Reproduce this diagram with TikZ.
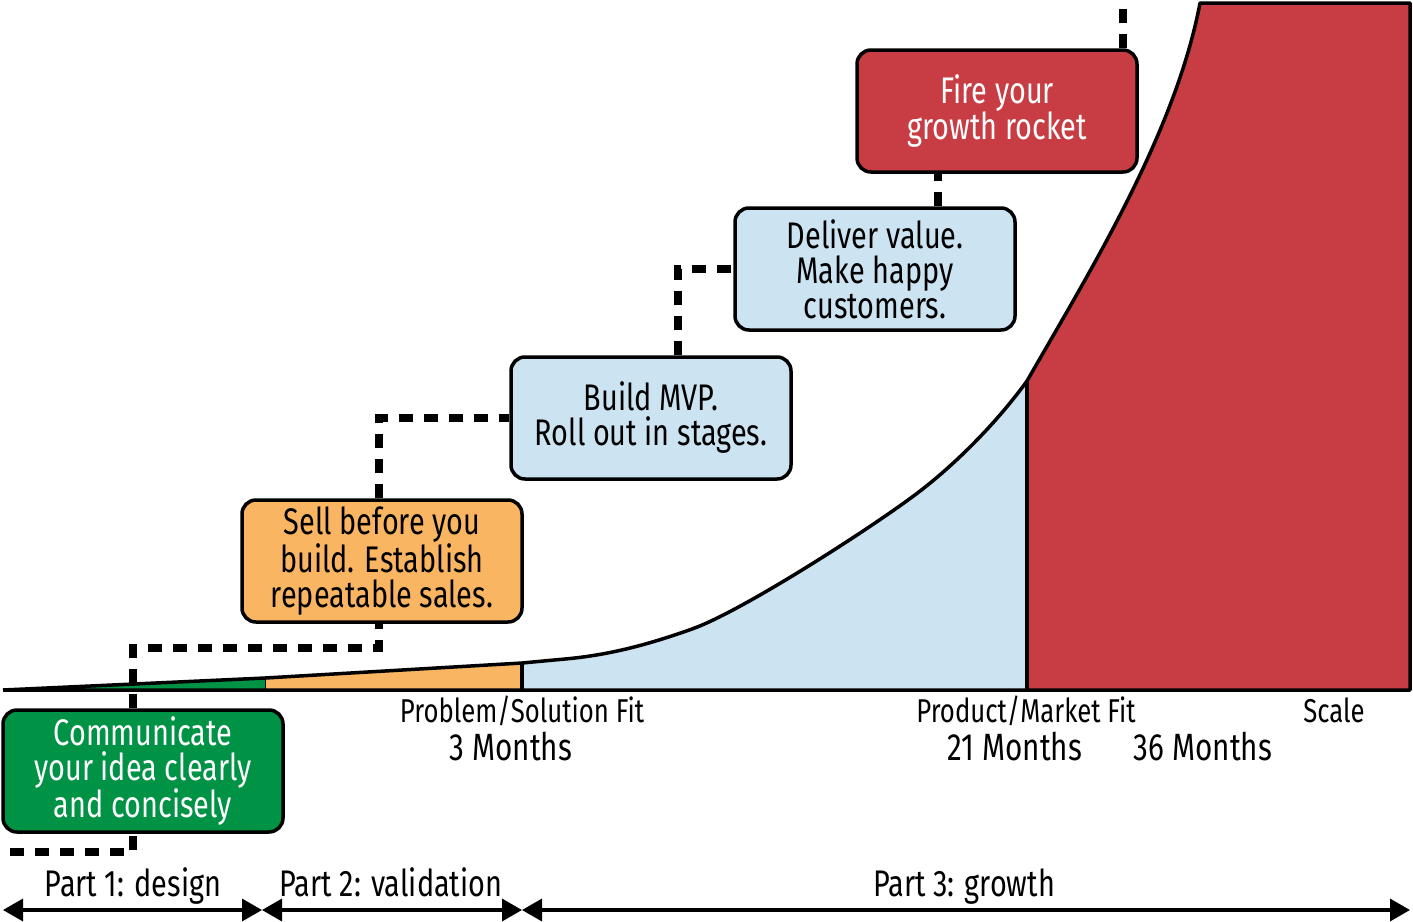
\documentclass[tikz,border=0pt]{standalone}
\usepackage{fontspec}
\setmainfont{Fira Sans}[FakeStretch=0.78]
\usepackage{tikz}
\usetikzlibrary{arrows.meta}

\definecolor{stepgreen}{RGB}{0,146,69}
\definecolor{steporange}{RGB}{250,181,98}
\definecolor{stepblue}{RGB}{204,227,241}
\definecolor{stepred}{RGB}{200,61,67}

\tikzset{
  stepbox/.style={shape=rectangle, rounded corners=14pt, draw=black, line width=3.5pt,
    minimum width=280pt, minimum height=122pt, inner sep=0pt, align=center,
    font=\fontsize{37}{35}\selectfont},
  link/.style={line width=8pt, dash pattern=on 14pt off 11pt},
  marklabel/.style={inner sep=0pt, anchor=base, font=\fontsize{33}{33}\selectfont},
  monthlabel/.style={inner sep=0pt, anchor=base, font=\fontsize{38}{38}\selectfont},
  partlabel/.style={inner sep=0pt, anchor=base, font=\fontsize{37}{37}\selectfont},
  span/.style={line width=3.5pt, {Triangle[length=20pt,width=22pt]}-{Triangle[length=20pt,width=22pt]}}
}

\newcommand\growthpath{(3,690) -- (265,678) -- (522,663) -- (565,659)
  .. controls (610,655) and (650,644) .. (692,629)
  .. controls (740,612) and (860,535) .. (908,500)
  .. controls (950,470) and (995,425) .. (1027,381)
  .. controls (1087,276) and (1175,135) .. (1200,3)}

\begin{document}
\begin{tikzpicture}[x=1pt,y=-1pt]
\useasboundingbox (0,0) rectangle (1413,921);

% area under the curve
\foreach \xa/\xb/\col in {0/265/stepgreen, 265/522/steporange, 522/1027/stepblue, 1027/1413/stepred} {
  \begin{scope}
    \clip (\xa,0) rectangle (\xb,691);
    \fill[\col] \growthpath -- (1410,3) -- (1410,690) -- cycle;
  \end{scope}
}
\draw[line width=1pt] (265,678) -- (265,690);
\draw[line width=3.5pt] (522,663) -- (522,690);
\draw[line width=3.5pt] (1027,381) -- (1027,690);
\draw[line width=3.5pt, line join=round] \growthpath -- (1410,3) -- (1410,690) -- (3,690);

% steps
\node[stepbox, fill=stepgreen, text=white](communicate) at (143,771) {Communicate\\your idea clearly\\and concisely};
\node[stepbox, fill=steporange](sell) at (382,561) {Sell before you\\build. Establish\\repeatable sales.};
\node[stepbox, fill=stepblue](mvp) at (651,418) {Build MVP.\\Roll out in stages.};
\node[stepbox, fill=stepblue](value) at (875,269) {Deliver value.\\Make happy\\customers.};
\node[stepbox, fill=stepred, text=white](rocket) at (997,111) {Fire your\\growth rocket};

% dotted path between steps
\coordinate (start) at (10,852);
\coordinate (bend) at (133,648);
\coordinate (sky) at (1123,0);

\draw[link] (start) -| ([xshift=-10pt]communicate.south);
\draw[link] ([xshift=-10pt]communicate.north) -- (bend) -| ([xshift=-3pt]sell.south);
\draw[link] ([xshift=-3pt]sell.north) |- (mvp.west);
\draw[link] ([xshift=27pt]mvp.north) |- (value.west);
\draw[link] ([xshift=63pt]value.north) -- ([xshift=-59pt]rocket.south);
\draw[link] ([xshift=126pt]rocket.north) -- (sky);

% milestones
\node[marklabel](psfit) at (522,722) {Problem/Solution Fit};
\node[monthlabel](m3) at (511,760) {3 Months};
\node[marklabel](pmfit) at (1026,722) {Product/Market Fit};
\node[monthlabel](m21) at (1015,760) {21 Months};
\node[monthlabel](m36) at (1203,760) {36 Months};
\node[marklabel](scale) at (1334,722) {Scale};

% parts
\coordinate (t0) at (3,910);
\coordinate (t1) at (262,910);
\coordinate (t2) at (522,910);
\coordinate (t3) at (1410,910);

\draw[span] (t0) -- (t1);
\draw[span] (t1) -- (t2);
\draw[span] (t2) -- (t3);

\node[partlabel](part1) at (133,896) {Part 1: design};
\node[partlabel](part2) at (391,896) {Part 2: validation};
\node[partlabel](part3) at (964,896) {Part 3: growth};
\end{tikzpicture}
\end{document}
